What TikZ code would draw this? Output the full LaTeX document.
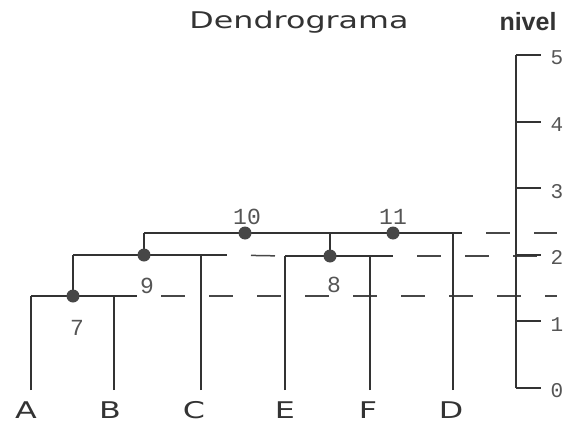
\documentclass[tikz,border=0pt]{standalone}
\usepackage{fontspec}
\newfontfamily\widesans[FakeStretch=1.38]{DejaVu Sans}
\newfontfamily\labsans{Liberation Sans}
\newfontfamily\monofam{Liberation Mono}
\definecolor{ink}{HTML}{333333}
\definecolor{dotc}{HTML}{474747}
\definecolor{light}{HTML}{555555}
\begin{document}
\begin{tikzpicture}[x=1pt,y=-1pt,
  merge/.style={line width=2pt, draw=ink},
  stem/.style={line width=1.2pt, draw=ink},
  guide/.style={line width=1.5pt, draw=ink!90, dash pattern=on 24pt off 24pt, dash phase=24pt},
  axisline/.style={line width=1.4pt, draw=ink},
  tickmark/.style={line width=2pt, draw=ink},
  dot/.style={circle, fill=dotc, inner sep=0pt, minimum size=13pt},
  num/.style={font=\monofam\fontsize{23}{23}\selectfont, text=light, inner sep=0pt},
  leaf/.style={font=\widesans\fontsize{23}{23}\selectfont, text=ink, inner sep=0pt},
  head/.style={font=\labsans\bfseries\fontsize{25}{25}\selectfont, text=ink, inner sep=0pt}
]
\useasboundingbox (0,0) rectangle (565,423);
% leaves
\coordinate (A) at (31,390);
\coordinate (B) at (114,390);
\coordinate (C) at (201,390);
\coordinate (E) at (285,390);
\coordinate (F) at (370,390);
\coordinate (D) at (453,390);
% merge points
\coordinate (m7) at (73,296);
\coordinate (m9) at (144,255);
\coordinate (m8) at (330,256);
\coordinate (m10) at (245,233);
\coordinate (m11) at (393,233);
% solid ends
\coordinate (e7) at (137,296);
\coordinate (e9) at (227,255);
\coordinate (e8) at (393,256);
\coordinate (e10) at (462,233);
% guide ends
\coordinate (g7) at (557,296);
\coordinate (g8) at (542,256);
\coordinate (g10) at (557,233);

% dashed guides
\draw[guide] (e7) -- (g7);
\draw[guide] (e9) -- (E |- m8);
\draw[guide] (e8) -- (g8);
\draw[guide] (e10) -- (g10);

% stems
\draw[stem] (A) -- (A |- m7);
\draw[stem] (B) -- (B |- m7);
\draw[stem] (m7) -- (m7 |- m9);
\draw[stem] (C) -- (C |- m9);
\draw[stem] (m9) -- (m9 |- m10);
\draw[stem] (E) -- (E |- m8);
\draw[stem] (F) -- (F |- m8);
\draw[stem] (m8) -- (m8 |- m10);
\draw[stem] (D) -- (D |- m10);

% merge lines
\draw[merge] (A |- m7) -- (e7);
\draw[merge] (m7 |- m9) -- (e9);
\draw[merge] (m9 |- m10) -- (e10);
\draw[merge] (E |- m8) -- (e8);

% dots
\node[dot] (n7) at (m7) {};
\node[dot] (n9) at (m9) {};
\node[dot] (n8) at (m8) {};
\node[dot] (n10) at (m10) {};
\node[dot] (n11) at (m11) {};

% merge labels
\node[num] (l7) at (77,328) {7};
\node[num] (l9) at (147,286) {9};
\node[num] (l8) at (334,285) {8};
\node[num] (l10) at (247,217) {10};
\node[num] (l11) at (393,217) {11};

% axis
\coordinate (ax0) at (516,388);
\coordinate (ax5) at (516,55);
\draw[axisline] (ax0) -- (ax5);
\foreach \l in {0,...,5} {
  \pgfmathsetmacro\yy{388-66.6*\l}
  \coordinate (t\l) at (516,\yy);
  \draw[tickmark] (t\l) -- ++(25,0);
  \node[num, font=\monofam\fontsize{21}{21}\selectfont] (lv\l) at (557,\yy+3) {\l};
}

% leaf labels
\node[leaf, anchor=base] (lA) at (26,418) {A};
\node[leaf, anchor=base] (lB) at (110,418) {B};
\node[leaf, anchor=base] (lC) at (194,418) {C};
\node[leaf, anchor=base] (lE) at (285,418) {E};
\node[leaf, anchor=base] (lF) at (368,418) {F};
\node[leaf, anchor=base] (lD) at (451,418) {D};

% titles
\node[leaf, anchor=base] (title) at (299,28) {Dendrograma};
\node[head, anchor=base] (nivel) at (528,30) {nivel};
\end{tikzpicture}
\end{document}
